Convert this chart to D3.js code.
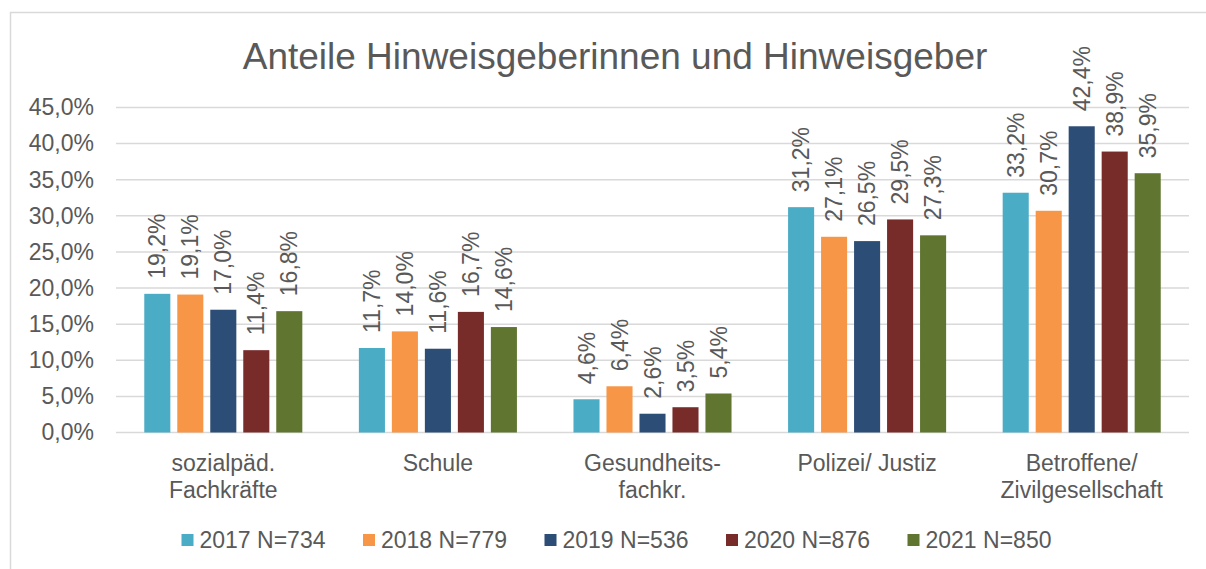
<!DOCTYPE html>
<head>
  <meta charset="utf-8">
  <script src="https://d3js.org/d3.v7.min.js"></script>
  <style>
    body { margin:0; background:#fff; }
    text { font-family: "Liberation Sans", Arial, sans-serif; fill:#595959; }
  </style>
</head>
<body>
<script>
  // data
  var categories = [["sozialpäd.", "Fachkräfte"], ["Schule"], ["Gesundheits-", "fachkr."], ["Polizei/ Justiz"], ["Betroffene/", "Zivilgesellschaft"]];
  var seriesNames = ["2017 N=734", "2018 N=779", "2019 N=536", "2020 N=876", "2021 N=850"];
  var v2017 = [19.2, 11.7, 4.6, 31.2, 33.2];
  var v2018 = [19.1, 14.0, 6.4, 27.1, 30.7];
  var v2019 = [17.0, 11.6, 2.6, 26.5, 42.4];
  var v2020 = [11.4, 16.7, 3.5, 29.5, 38.9];
  var v2021 = [16.8, 14.6, 5.4, 27.3, 35.9];
  var yTicks = [0, 5, 10, 15, 20, 25, 30, 35, 40, 45];
  var colors = ["#4bacc6", "#f79646", "#2c4d75", "#772c2a", "#5f7530"];

  var series = [v2017, v2018, v2019, v2020, v2021];

  var W = 1206, H = 569;
  var svg = d3.select("body").append("svg")
    .attr("width", W).attr("height", H);

  // chart border (only top and left are inside the picture)
  svg.append("rect")
    .attr("x", 10.5).attr("y", 12.5)
    .attr("width", 1300).attr("height", 700)
    .attr("fill", "none").attr("stroke", "#d9d9d9").attr("stroke-width", 1.5);

  var plotLeft = 116, plotRight = 1189, plotTop = 107.5, plotBottom = 432.5;

  var x0 = d3.scaleBand().domain(d3.range(categories.length)).range([plotLeft, plotRight]);
  var x1 = d3.scaleBand().domain(d3.range(seriesNames.length))
    .range([0, x0.bandwidth()]).paddingInner(0.21).paddingOuter(0.857);
  var y = d3.scaleLinear().domain([0, 45]).range([plotBottom, plotTop]);

  // gridlines
  svg.append("g").selectAll("line").data(yTicks).enter()
    .append("line")
    .attr("x1", plotLeft).attr("x2", plotRight)
    .attr("y1", function(d) { return y(d); })
    .attr("y2", function(d) { return y(d); })
    .attr("stroke", "#d9d9d9").attr("stroke-width", 1.5);

  // y axis labels
  var fmt = function(d) { return d.toFixed(1).replace(".", ",") + "%"; };
  var yAxis = svg.append("g")
    .attr("transform", "translate(" + (plotLeft - 22) + ",0)")
    .call(d3.axisLeft(y).tickValues(yTicks).tickFormat(fmt).tickSize(0).tickPadding(0));
  yAxis.select(".domain").remove();
  yAxis.selectAll("text")
    .style("font-size", "23px").style("fill", "#595959")
    .style("font-family", "'Liberation Sans', Arial, sans-serif");

  // bars
  var groups = svg.append("g").selectAll("g").data(categories).enter()
    .append("g")
    .attr("transform", function(d, i) { return "translate(" + x0(i) + ",0)"; });

  groups.each(function(c, ci) {
    var g = d3.select(this);
    series.forEach(function(s, si) {
      g.append("rect")
        .attr("x", x1(si))
        .attr("width", x1.bandwidth())
        .attr("y", y(s[ci]))
        .attr("height", plotBottom - y(s[ci]))
        .attr("fill", colors[si]);
      var cx = x1(si) + x1.bandwidth() / 2;
      g.append("text")
        .attr("transform", "translate(" + cx + "," + (y(s[ci]) - 15) + ") rotate(-90)")
        .attr("dy", "0.35em")
        .style("font-size", "23px")
        .style("text-anchor", "start")
        .text(fmt(s[ci]));
    });
  });

  // category labels
  categories.forEach(function(c, i) {
    var t = svg.append("text")
      .attr("x", x0(i) + x0.bandwidth() / 2)
      .attr("y", 471)
      .style("font-size", "23px")
      .style("text-anchor", "middle");
    c.forEach(function(line, li) {
      t.append("tspan")
        .attr("x", x0(i) + x0.bandwidth() / 2)
        .attr("dy", li === 0 ? 0 : 27)
        .text(line);
    });
  });

  // legend
  var legend = svg.append("g").selectAll("g").data(seriesNames).enter()
    .append("g")
    .attr("transform", function(d, i) { return "translate(" + (181.5 + i * 181.5) + ",534)"; });
  legend.append("rect")
    .attr("width", 12).attr("height", 12)
    .attr("fill", function(d, i) { return colors[i]; });
  legend.append("text")
    .attr("x", 18).attr("y", 14)
    .style("font-size", "23px")
    .text(function(d) { return d; });

  // title
  svg.append("text")
    .attr("x", 615).attr("y", 69)
    .style("text-anchor", "middle")
    .style("font-size", "37px")
    .text("Anteile Hinweisgeberinnen und Hinweisgeber");
</script>
</body>
